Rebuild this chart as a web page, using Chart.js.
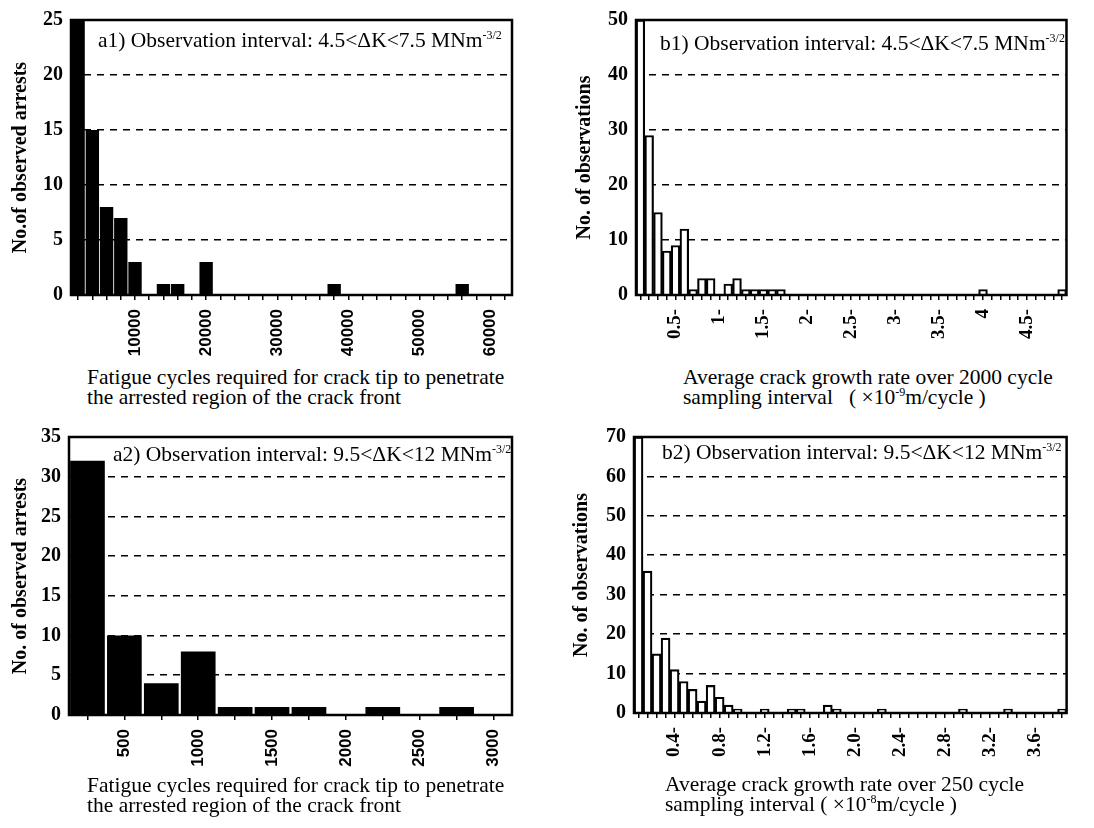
<!DOCTYPE html>
<html lang="en">
<head>
<meta charset="UTF-8">
<title>Crack arrest and growth rate histograms</title>
<script src="https://cdn.jsdelivr.net/npm/chart.js"></script>
<style>
  body { margin:0; background:#fff; width:1094px; height:828px; position:relative; overflow:hidden;
         font-family:"Liberation Serif", "Times New Roman", serif; color:#000; }
  canvas { position:absolute; }
  .note { position:absolute; font-size:21.5px; line-height:24px; white-space:nowrap; }
  .note sup, .xt sup { font-size:12px; vertical-align:8px; line-height:0; }
  .xt { position:absolute; font-size:21.5px; line-height:20px; white-space:nowrap; }
</style>
</head>
<body>
<canvas id="a1" width="540" height="365" style="left:0;top:0"></canvas>
<canvas id="b1" width="534" height="365" style="left:560px;top:0"></canvas>
<canvas id="a2" width="540" height="360" style="left:0;top:415px"></canvas>
<canvas id="b2" width="534" height="360" style="left:560px;top:415px"></canvas>

<div class="note" style="left:98px;top:28px">a1) Observation interval: 4.5&lt;ΔK&lt;7.5 MNm<sup>-3/2</sup></div>
<div class="note" style="left:660px;top:31px">b1) Observation interval: 4.5&lt;ΔK&lt;7.5 MNm<sup>-3/2</sup></div>
<div class="note" style="left:113px;top:442px">a2) Observation interval: 9.5&lt;ΔK&lt;12 MNm<sup>-3/2</sup></div>
<div class="note" style="left:662px;top:440px">b2) Observation interval: 9.5&lt;ΔK&lt;12 MNm<sup>-3/2</sup></div>

<div class="xt" style="left:87px;top:367px">Fatigue cycles required for crack tip to penetrate<br>the arrested region of the crack front</div>
<div class="xt" style="left:683px;top:367px">Average crack growth rate over 2000 cycle<br>sampling interval &nbsp;&nbsp;( ×10<sup>-9</sup>m/cycle )</div>
<div class="xt" style="left:87px;top:775px">Fatigue cycles required for crack tip to penetrate<br>the arrested region of the crack front</div>
<div class="xt" style="left:665px;top:774px">Average crack growth rate over 250 cycle<br>sampling interval ( ×10<sup>-8</sup>m/cycle )</div>

<script>
// a1: cycles to penetrate arrest, 2000-cycle bins
const a1Bins = [2000, 4000, 6000, 8000, 10000, 12000, 14000, 16000, 18000, 20000,
  22000, 24000, 26000, 28000, 30000, 32000, 34000, 36000, 38000, 40000,
  42000, 44000, 46000, 48000, 50000, 52000, 54000, 56000, 58000, 60000, 62000];
const a1Counts = [25, 15, 8, 7, 3, 0, 1, 1, 0, 3,
  0, 0, 0, 0, 0, 0, 0, 0, 1, 0,
  0, 0, 0, 0, 0, 0, 0, 1, 0, 0, 0];
const a1TickLabels = {10000: '10000', 20000: '20000', 30000: '30000', 40000: '40000', 50000: '50000', 60000: '60000'};

// b1: growth rate, x10^-9 m/cycle
const b1Bins = ['0.1', '0.2', '0.3', '0.4', '0.5', '0.6', '0.7', '0.8', '0.9', '1.0',
  '1.1', '1.2', '1.3', '1.4', '1.5', '1.6', '1.7', '1.8', '1.9', '2.0',
  '2.1', '2.2', '2.3', '2.4', '2.5', '2.6', '2.7', '2.8', '2.9', '3.0',
  '3.1', '3.2', '3.3', '3.4', '3.5', '3.6', '3.7', '3.8', '3.9', '4.0',
  '4.1', '4.2', '4.3', '4.4', '4.5', '4.6', '4.7', '4.8', '4.9'];
const b1Counts = [50, 29, 15, 8, 9, 12, 1, 3, 3, 0,
  2, 3, 1, 1, 1, 1, 1, 0, 0, 0,
  0, 0, 0, 0, 0, 0, 0, 0, 0, 0,
  0, 0, 0, 0, 0, 0, 0, 0, 0, 1,
  0, 0, 0, 0, 0, 0, 0, 0, 1];
const b1TickLabels = {'0.5': '0.5-', '1.0': '1-', '1.5': '1.5-', '2.0': '2-', '2.5': '2.5-',
  '3.0': '3-', '3.5': '3.5-', '4.0': '4', '4.5': '4.5-'};

// a2: cycles to penetrate arrest, 250-cycle bins
const a2Bins = [250, 500, 750, 1000, 1250, 1500, 1750, 2000, 2250, 2500, 2750, 3000];
const a2Counts = [32, 10, 4, 8, 1, 1, 1, 0, 1, 0, 1, 0];
const a2TickLabels = {500: '500', 1000: '1000', 1500: '1500', 2000: '2000', 2500: '2500', 3000: '3000'};

// b2: growth rate, x10^-8 m/cycle
const b2Bins = ['0.08', '0.16', '0.24', '0.32', '0.40', '0.48', '0.56', '0.64', '0.72', '0.80',
  '0.88', '0.96', '1.04', '1.12', '1.20', '1.28', '1.36', '1.44', '1.52', '1.60',
  '1.68', '1.76', '1.84', '1.92', '2.00', '2.08', '2.16', '2.24', '2.32', '2.40',
  '2.48', '2.56', '2.64', '2.72', '2.80', '2.88', '2.96', '3.04', '3.12', '3.20',
  '3.28', '3.36', '3.44', '3.52', '3.60', '3.68', '3.76', '3.84'];
const b2Counts = [70, 36, 15, 19, 11, 8, 6, 3, 7, 4,
  2, 1, 0, 0, 1, 0, 0, 1, 1, 0,
  0, 2, 1, 0, 0, 0, 0, 1, 0, 0,
  0, 0, 0, 0, 0, 0, 1, 0, 0, 0,
  0, 1, 0, 0, 0, 0, 0, 1];
const b2TickLabels = {'0.40': '0.4-', '0.80': '0.8-', '1.20': '1.2-', '1.60': '1.6-', '2.00': '2.0-',
  '2.40': '2.4-', '2.80': '2.8-', '3.20': '3.2-', '3.60': '3.6-'};

// box round the plot area
const frame = {
  id: 'frame',
  afterDatasetsDraw(chart) {
    const {ctx, chartArea: a} = chart;
    ctx.save();
    ctx.strokeStyle = '#000';
    ctx.lineWidth = 2.5;
    ctx.strokeRect(a.left, a.top, a.right - a.left, a.bottom - a.top);
    ctx.restore();
  }
};

function histogram(id, bins, counts, tickLabels, o) {
  new Chart(document.getElementById(id), {
    type: 'bar',
    data: {
      labels: bins,
      datasets: [{
        data: counts,
        backgroundColor: o.filled ? '#000' : '#fff',
        borderColor: '#000',
        borderWidth: o.filled ? 0 : 2.2,
        barPercentage: o.filled ? 0.94 : 1,
        categoryPercentage: 1
      }]
    },
    options: {
      responsive: false,
      animation: false,
      layout: { padding: { left: 0, top: o.top, right: o.right, bottom: 0 } },
      plugins: { legend: { display: false }, tooltip: { enabled: false } },
      scales: {
        x: {
          grid: { drawOnChartArea: false, offset: false, tickLength: 5, color: '#000', lineWidth: 1.5 },
          border: { display: false },
          ticks: {
            autoSkip: false, minRotation: 90, maxRotation: 90, padding: 9, color: '#000',
            font: o.xFont,
            callback: (v, i) => tickLabels[bins[i]] || ''
          },
          afterFit: s => { s.height = o.xH; }
        },
        y: {
          min: 0, max: o.max,
          ticks: { stepSize: o.step, padding: 8, color: '#000',
                   font: { family: 'Liberation Serif', weight: 'bold', size: 20 } },
          grid: {
            drawTicks: false, lineWidth: 1.6,
            color: c => (c.tick && c.tick.value > 0 && c.tick.value < o.max) ? '#000' : 'rgba(0,0,0,0)'
          },
          border: { display: false, dash: [7, 6] },
          title: {
            display: true, text: o.yTitle, color: '#000',
            font: { family: 'Liberation Serif', weight: 'bold', size: o.yTitleSize },
            padding: { top: o.yTitlePad, bottom: 0 }
          },
          afterFit: s => { s.width = o.yW; }
        }
      }
    },
    plugins: [frame]
  });
}

const sansTicks = { family: 'Liberation Sans', weight: 'bold', size: 17 };
const serifTicks = { family: 'Liberation Serif', weight: 'bold', size: 19 };

histogram('a1', a1Bins, a1Counts, a1TickLabels, {
  filled: true, top: 16, right: 28, yW: 71, xH: 70, max: 25, step: 5,
  yTitle: 'No.of observed arrests', yTitleSize: 20, yTitlePad: 9, xFont: sansTicks
});
histogram('b1', b1Bins, b1Counts, b1TickLabels, {
  filled: false, top: 16, right: 11, yW: 76, xH: 70, max: 50, step: 10,
  yTitle: 'No. of observations', yTitleSize: 20, yTitlePad: 13, xFont: serifTicks
});
histogram('a2', a2Bins, a2Counts, a2TickLabels, {
  filled: true, top: 22, right: 28, yW: 69, xH: 60, max: 35, step: 5,
  yTitle: 'No. of observed arrests', yTitleSize: 20, yTitlePad: 9, xFont: sansTicks
});
histogram('b2', b2Bins, b2Counts, b2TickLabels, {
  filled: false, top: 22, right: 9, yW: 74, xH: 62, max: 70, step: 10,
  yTitle: 'No. of observations', yTitleSize: 20, yTitlePad: 10, xFont: serifTicks
});
</script>
</body>
</html>
